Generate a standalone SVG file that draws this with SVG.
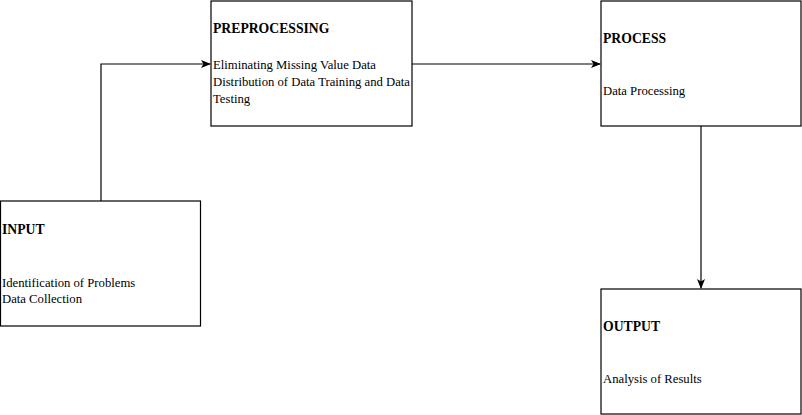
<svg xmlns="http://www.w3.org/2000/svg" width="802" height="415" viewBox="0 0 802 415">
<style>
.box{fill:#fff;stroke:#000;stroke-width:1.2}
.h{font-family:"Liberation Serif",serif;font-weight:bold;font-size:13.7px;fill:#000}
.t{font-family:"Liberation Serif",serif;font-size:12.7px;fill:#000}
.c{fill:none;stroke:#000;stroke-width:1.2}
</style>
<defs>
<marker id="arr" markerWidth="10" markerHeight="8" refX="9" refY="4" orient="auto" markerUnits="userSpaceOnUse">
<path d="M0,0 L10,4 L0,8 L2.5,4 Z" fill="#000"/>
</marker>
</defs>
<rect width="802" height="415" fill="#fff"/>
<g id="connectors">
<path class="c" d="M101,201 V64 H210" marker-end="url(#arr)"/>
<path class="c" d="M412,64 H600" marker-end="url(#arr)"/>
<path class="c" d="M701,126 V288" marker-end="url(#arr)"/>
</g>
<g id="input">
<rect class="box" x="0.5" y="201" width="200" height="125"/>
<text class="h" x="2" y="234">INPUT</text>
<text class="t" x="2" y="287">Identification of Problems</text>
<text class="t" x="2" y="303">Data Collection</text>
</g>
<g id="preprocessing">
<rect class="box" x="211" y="1" width="201" height="125"/>
<text class="h" x="213" y="33">PREPROCESSING</text>
<text class="t" x="213" y="69">Eliminating Missing Value Data</text>
<text class="t" x="213" y="86">Distribution of Data Training and Data</text>
<text class="t" x="213" y="103">Testing</text>
</g>
<g id="process">
<rect class="box" x="601" y="1" width="200" height="125"/>
<text class="h" x="603" y="43">PROCESS</text>
<text class="t" x="603" y="95">Data Processing</text>
</g>
<g id="output">
<rect class="box" x="601" y="289" width="200" height="125"/>
<text class="h" x="603" y="331">OUTPUT</text>
<text class="t" x="603" y="383">Analysis of Results</text>
</g>
</svg>
